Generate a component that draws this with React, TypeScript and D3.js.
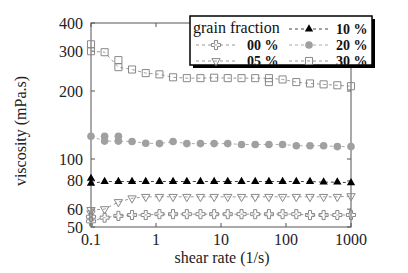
import * as d3 from 'd3';
import React from 'react';

// shear rate (1/s), one entry per measured point
const shearRate = [0.1, 0.162, 0.264, 0.428, 0.695, 1.13, 1.83, 2.98, 4.83, 7.85, 12.7, 20.7, 33.6, 54.6, 88.6, 144, 234, 379, 616, 1000];

// viscosity (mPa.s) per grain fraction
const visc00 = [53, 55, 56, 56.5, 56.5, 57, 57, 57, 57, 57, 57, 57, 57, 57, 57, 57, 56.5, 56.5, 56.5, 56.5];
const visc05 = [59.5, 60, 64.5, 67, 68, 68, 68, 68, 68, 68, 68, 68, 68, 68, 68, 68, 68, 68, 68, 68.5];
const visc10 = [78, 79.5, 79.5, 79.5, 79.5, 79.5, 79.5, 79.5, 79.5, 79.5, 79.5, 79.5, 79.5, 79.5, 79.5, 79.5, 79.5, 79, 79, 78.5];
const visc20 = [126, 120, 120, 119.5, 117.5, 117, 119.5, 117, 117, 117, 117, 116, 116, 116, 116, 114.5, 114.5, 114.5, 113.5, 113.5];
const visc30 = [300, 297, 255, 249, 240, 237, 230, 228, 228, 229, 228, 228, 228, 228, 225, 219, 216, 214, 212, 210];

// second (overlapping) readings at the start of the sweep
const extra00 = [[0.1, 55.5]];
const extra05 = [[0.1, 57.5]];
const extra10 = [[0.1, 82]];
const extra20 = [[0.162, 126], [0.264, 126]];
const extra30 = [[0.1, 322], [0.264, 274], [54.6, 219]];

const xTicks = [0.1, 1, 10, 100, 1000];
const yTicks = [50, 60, 80, 100, 200, 300, 400];

const series = [
  { label: '00 %', values: visc00, extra: extra00, marker: 'cross', line: '#999' },
  { label: '05 %', values: visc05, extra: extra05, marker: 'down', line: '#999' },
  { label: '10 %', values: visc10, extra: extra10, marker: 'up', line: '#444' },
  { label: '20 %', values: visc20, extra: extra20, marker: 'circle', line: '#aaa' },
  { label: '30 %', values: visc30, extra: extra30, marker: 'square', line: '#999' },
];

const font = '"Liberation Serif", "DejaVu Serif", serif';

const Marker = ({ type, x, y }) => {
  if (type === 'cross') {
    const p = d3.symbol().type(d3.symbolCross).size(46)();
    return <path d={p} transform={`translate(${x},${y})`} fill="none" stroke="#888" strokeWidth={1} />;
  }
  if (type === 'down') {
    const p = d3.symbol().type(d3.symbolTriangle).size(30)();
    return <path d={p} transform={`translate(${x},${y}) rotate(180)`} fill="none" stroke="#888" strokeWidth={1} />;
  }
  if (type === 'up') {
    const p = d3.symbol().type(d3.symbolTriangle).size(30)();
    return <path d={p} transform={`translate(${x},${y})`} fill="#000" />;
  }
  if (type === 'circle') {
    return <circle cx={x} cy={y} r={3.8} fill="#a0a0a0" />;
  }
  const p = d3.symbol().type(d3.symbolSquare).size(50)();
  return <path d={p} transform={`translate(${x},${y})`} fill="none" stroke="#888" strokeWidth={1} />;
};

export default function App() {
  const left = 91, right = 351, top = 23, bottom = 227;
  const x = d3.scaleLog().domain([0.1, 1000]).range([left, right]);
  const y = d3.scaleLog().domain([50, 400]).range([bottom, top]);

  const line = d3.line()
    .x(d => x(d[0]))
    .y(d => y(d[1]));

  // legend slots: [column, row]
  const legendPos = { '00 %': [0, 1], '05 %': [0, 2], '10 %': [1, 0], '20 %': [1, 1], '30 %': [1, 2] };
  const colX = [196, 289];
  const labelX = [247, 336];
  const rowY = [29, 45, 61];

  return (
    <svg width={408} height={273} style={{ position: 'absolute', left: 0, top: 0, background: '#fff' }} fontFamily={font}>
      {/* frame */}
      <rect x={left} y={top} width={right - left} height={bottom - top} fill="none" stroke="#555" strokeWidth={1} />

      {/* ticks */}
      {xTicks.map(t => (
        <g key={'x' + t}>
          <line x1={x(t)} x2={x(t)} y1={bottom} y2={bottom - 4} stroke="#555" />
          <line x1={x(t)} x2={x(t)} y1={top} y2={top + 4} stroke="#555" />
          <text x={x(t)} y={245} fontSize={16} textAnchor="middle" fill="#222">{t}</text>
        </g>
      ))}
      {yTicks.map(t => (
        <g key={'y' + t}>
          <line x1={left} x2={left + 4} y1={y(t)} y2={y(t)} stroke="#555" />
          <line x1={right} x2={right - 4} y1={y(t)} y2={y(t)} stroke="#555" />
          <text x={83} y={y(t)} dy="0.35em" fontSize={16} textAnchor="end" fill="#222">{t}</text>
        </g>
      ))}

      <text x={222} y={263} fontSize={16} textAnchor="middle" fill="#222">shear rate (1/s)</text>
      <text transform="translate(26,131) rotate(-90)" fontSize={16} textAnchor="middle" fill="#222">viscosity (mPa.s)</text>

      {/* data */}
      {series.map(s => {
        const pts = s.values.map((v, i) => [shearRate[i], v]);
        return (
          <g key={s.label}>
            <path d={line(pts)} fill="none" stroke={s.line} strokeWidth={1} strokeDasharray="3,3" />
            {s.extra.map((p, i) => <Marker key={'e' + i} type={s.marker} x={x(p[0])} y={y(p[1])} />)}
            {pts.map((p, i) => <Marker key={i} type={s.marker} x={x(p[0])} y={y(p[1])} />)}
          </g>
        );
      })}

      {/* legend */}
      <rect x={193} y={19} width={182} height={49} fill="#000" />
      <rect x={190} y={16} width={182} height={49} fill="#fff" stroke="#000" strokeWidth={1.5} />
      <text x={193} y={27} dy="0.35em" fontSize={16} fill="#111">grain fraction</text>
      {series.map(s => {
        const [c, r] = legendPos[s.label];
        const lx = colX[c], ly = rowY[r];
        return (
          <g key={'lg' + s.label}>
            <line x1={lx} x2={lx + 40} y1={ly} y2={ly} stroke={s.line} strokeDasharray="3,3" />
            <Marker type={s.marker} x={lx + 20} y={ly} />
            <text x={labelX[c]} y={ly} dy="0.35em" fontSize={14} fontWeight="bold" fill="#111">{s.label}</text>
          </g>
        );
      })}
    </svg>
  );
}
